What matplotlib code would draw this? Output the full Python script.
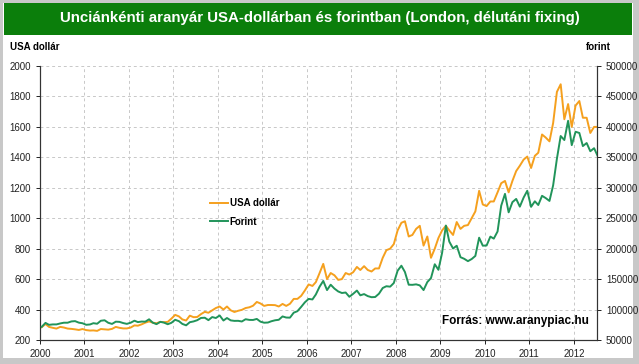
import numpy as np
import pandas as pd
import matplotlib
matplotlib.use("Agg")
import matplotlib.pyplot as plt
from matplotlib.patches import Rectangle

# Monthly gold price, USD per ounce
usd = [
    284, 305, 286, 280, 275, 286, 282, 275, 273, 270, 266, 272,          # 2000
    265, 262, 263, 260, 272, 270, 268, 273, 286, 280, 276, 276,          # 2001
    282, 296, 294, 303, 314, 322, 314, 310, 319, 317, 319, 340,          # 2002
    365, 355, 335, 328, 360, 350, 351, 370, 385, 379, 395, 410,          # 2003
    420, 400, 420, 395, 384, 392, 398, 410, 415, 425, 450, 440,          # 2004
    424, 430, 430, 429, 420, 437, 424, 438, 470, 470, 490, 525,          # 2005
    565, 555, 580, 640, 700, 600, 640, 625, 595, 600, 640, 630,          # 2006
    645, 680, 660, 685, 660, 650, 670, 670, 740, 790, 800, 830,          # 2007
    920, 970, 980, 880, 890, 930, 950, 820, 880, 740, 800, 870,          # 2008
    920, 950, 920, 890, 975, 930, 950, 955, 1000, 1045, 1180, 1090,      # 2009
    1080, 1110, 1110, 1170, 1230, 1245, 1170, 1245, 1310, 1345, 1385, 1405,  # 2010
    1330, 1410, 1430, 1550, 1530, 1505, 1625, 1830, 1880, 1650, 1750, 1600,  # 2011
    1740, 1770, 1660, 1660, 1560, 1600, 1600,                            # 2012
]

# Monthly gold price, HUF per ounce
huf = [
    71600, 78100, 74900, 75600, 75600, 77200, 78400, 78400, 80500, 81000, 78500, 77500,
    75000, 75500, 77600, 76700, 81600, 82400, 78300, 76400, 80100, 79800, 77800, 76500,
    78400, 81700, 79400, 80300, 80100, 84000, 78500, 76000, 79800, 78600, 75900, 78200,
    83200, 80900, 76400, 74100, 79200, 80500, 82500, 86200, 86600, 82600, 87700, 86100,
    90300, 82000, 86100, 82200, 81400, 81500, 80400, 84100, 83000, 82900, 84600, 80100,
    78400, 78700, 80800, 82400, 83200, 88700, 86900, 86700, 94900, 97300, 104400, 111800,
    117500, 116600, 124700, 137600, 147000, 132000, 140800, 134400, 129700, 127200, 128000, 121000,
    125800, 131200, 123400, 125400, 122100, 120300, 120600, 126000, 135400, 138300, 137600, 143600,
    163800, 172000, 161700, 140800, 140600, 141400, 139700, 132000, 145200, 151700, 174400, 165300,
    193200, 238000, 211600, 200300, 204800, 186000, 183400, 179500, 183000, 188100, 218000, 204900,
    205200, 219800, 216500, 228200, 270600, 290000, 259700, 276400, 281700, 269000, 283900, 295100,
    268700, 277800, 271700, 286800, 283100, 278400, 303900, 347700, 385000, 378400, 410000, 370000,
    392000, 390000, 368500, 373500, 360000, 365000, 352000,
]

dates = pd.date_range("2000-01-01", periods=len(usd), freq="MS") + pd.Timedelta(days=14)
years = np.arange(2000, 2013)

orange = "#F5A01E"
green = "#21945A"
font = ["Liberation Sans", "DejaVu Sans"]

fig = plt.figure(figsize=(6.39, 3.64), dpi=100)
fig.patch.set_facecolor("#C8C8C8")
# white panel and green title bar
fig.add_artist(Rectangle((3 / 639, 6 / 364), 630 / 639, 355 / 364, transform=fig.transFigure,
                         facecolor="white", edgecolor="none", zorder=0))
fig.add_artist(Rectangle((4 / 639, 1 - 35 / 364), 628 / 639, 32 / 364, transform=fig.transFigure,
                         facecolor="#0B7E0B", edgecolor="none", zorder=1))
fig.text(0.5, 1 - 18 / 364, "Unciánkénti aranyár USA-dollárban és forintban (London, délutáni fixing)",
         color="white", fontsize=10.8, fontweight="bold", family=font,
         ha="center", va="center")

ax = fig.add_axes([40 / 639, 24 / 364, 557 / 639, 274 / 364])
ax.set_facecolor("white")
ax2 = ax.twinx()

t = dates.year + (dates.dayofyear - 1) / 365.25
l1, = ax.plot(t, usd, color=orange, lw=1.4, label="USA dollár", zorder=3)
l2, = ax2.plot(t, huf, color=green, lw=1.4, label="Forint", zorder=3)

ax.set_xlim(2000, 2012.52)
ax.set_ylim(200, 2000)
ax2.set_ylim(50000, 500000)
ax.set_xticks(years)
ax.set_xticklabels([str(y) for y in years])
ax.set_yticks(range(200, 2001, 200))
ax2.set_yticks(range(50000, 500001, 50000))

ax.grid(True, color="#C8C8C8", linestyle=(0, (3, 3)), lw=0.7)
for a in (ax, ax2):
    a.spines["top"].set_visible(False)
    for s in ("left", "right", "bottom"):
        a.spines[s].set_color("#333333")
        a.spines[s].set_linewidth(0.8)
    a.tick_params(labelsize=7, colors="#222222", length=3, width=0.7)
    for lab in a.get_xticklabels() + a.get_yticklabels():
        lab.set_family(font)

fig.text(10 / 639, 1 - 47 / 364, "USA dollár", fontsize=7, fontweight="bold",
         family=font, va="center", ha="left")
fig.text(611 / 639, 1 - 47 / 364, "forint", fontsize=7, fontweight="bold",
         family=font, va="center", ha="right")

leg = ax.legend([l1, l2], ["USA dollár", "Forint"], loc="upper left",
                bbox_to_anchor=(0.29, 0.55), frameon=False,
                handlelength=1.8, handletextpad=0.2, labelspacing=0.9,
                prop={"family": font, "weight": "bold", "size": 7})

ax.text(0.985, 0.07, "Forrás: www.aranypiac.hu", transform=ax.transAxes,
        fontsize=8.5, fontweight="bold", family=font,
        ha="right", va="center", zorder=5)

fig.savefig("out.png", dpi=100, facecolor=fig.get_facecolor())
